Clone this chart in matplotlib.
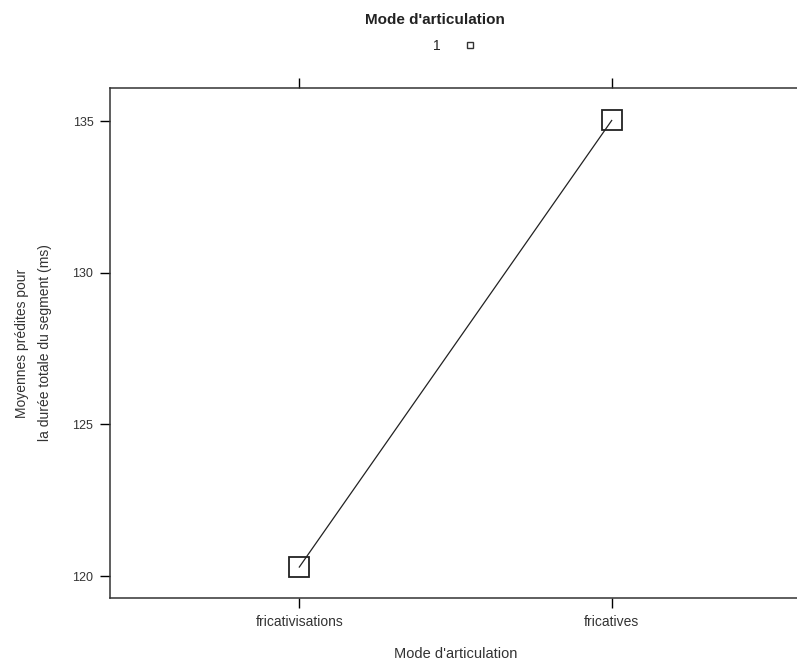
import matplotlib.pyplot as plt

# donnees
categories = ["fricativisations", "fricatives"]
moyennes = [120.3, 135.02]
yticks = [120, 125, 130, 135]

plt.rcParams['font.family'] = ['Liberation Sans', 'DejaVu Sans']

fig = plt.figure(figsize=(7.97, 6.66), dpi=100)
ax = fig.add_axes([110 / 797, 1 - 598 / 666, 1.005 - 110 / 797, (598 - 88) / 666])

x = list(range(1, len(categories) + 1))
ax.plot(x, moyennes, color="#222222", lw=0.9, marker="s", markersize=14.5,
        markerfacecolor="none", markeredgecolor="#222222", markeredgewidth=1.3)

ax.set_xlim(0.394, 2.606)
ax.set_ylim(119.28, 136.09)
ax.set_xticks(x)
ax.set_xticklabels(categories, fontsize=10, color="#333333")
ax.set_yticks(yticks)
ax.set_yticklabels([str(v) for v in yticks], fontsize=9, color="#333333")
ax.tick_params(axis="x", top=True, bottom=True, direction="out", length=7, width=1, pad=5)
ax.tick_params(axis="y", left=True, right=False, direction="out", length=7, width=1, pad=5)
for s in ax.spines.values():
    s.set_linewidth(1.1)
    s.set_color("#333333")

ax.set_xlabel("Mode d'articulation", fontsize=10.5, color="#333333", labelpad=13)
ax.set_ylabel("Moyennes prédites pour\nla durée totale du segment (ms)", fontsize=10,
              color="#333333", labelpad=15, linespacing=1.75)

# legende facon lattice
fig.text(435 / 797, 1 - 20 / 666, "Mode d'articulation", ha="center", va="center",
         fontsize=11, fontweight="bold", color="#222222")
fig.text(437 / 797, 1 - 46 / 666, "1", ha="center", va="center", fontsize=10, color="#222222")
fig.lines.append(plt.Line2D([470 / 797], [1 - 45 / 666], transform=fig.transFigure,
                            marker="s", markersize=5, markerfacecolor="none",
                            markeredgecolor="#333333", markeredgewidth=1, linestyle="none"))

fig.savefig("out.png", dpi=100)
